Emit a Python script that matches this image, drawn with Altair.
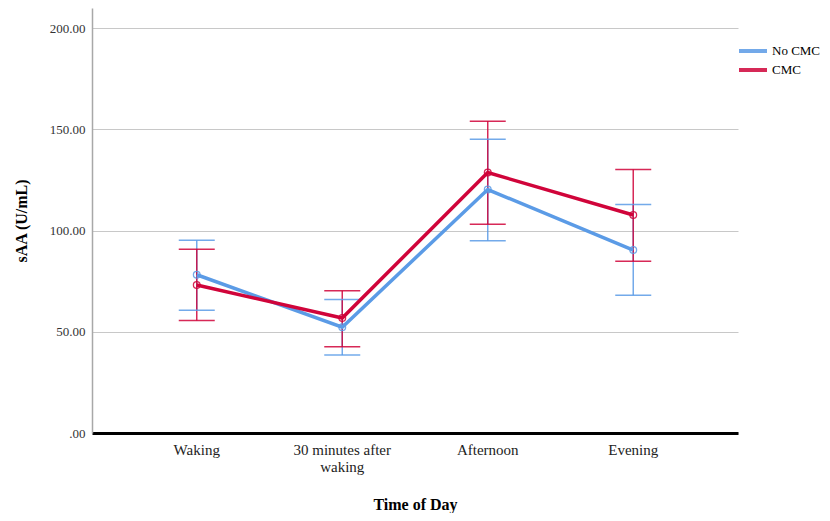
import altair as alt
import pandas as pd

time = ["Waking", "30 minutes after waking", "Afternoon", "Evening"]
groups = ["No CMC", "CMC"]
no_cmc_mean = [78.2, 52.3, 120.3, 90.4]
no_cmc_lo = [60.7, 38.5, 95.0, 68.1]
no_cmc_hi = [95.3, 66.0, 145.2, 112.9]
cmc_mean = [73.1, 56.8, 128.7, 107.7]
cmc_lo = [55.6, 42.6, 103.2, 84.9]
cmc_hi = [90.8, 70.3, 154.1, 130.2]

rows = []
for g, m, lo, hi in [("No CMC", no_cmc_mean, no_cmc_lo, no_cmc_hi),
                     ("CMC", cmc_mean, cmc_lo, cmc_hi)]:
    for t, a, b, c in zip(time, m, lo, hi):
        rows.append({"time": t, "group": g, "mean": a, "lo": b, "hi": c})
df = pd.DataFrame(rows)

BLUE = "#5B9BE6"
RED = "#D0043A"
SERIF = "Liberation Serif"

x = alt.X("time:N", sort=time, scale=alt.Scale(padding=0.44),
          axis=alt.Axis(title="Time of Day", labelAngle=0, ticks=False,
                        domainColor="black", domainWidth=3,
                        labelFont=SERIF, labelFontSize=15, labelColor="#222",
                        labelPadding=9, labelLimit=200,
                        labelExpr="datum.label == '30 minutes after waking' ? ['30 minutes after', 'waking'] : datum.label",
                        titleFont=SERIF, titleFontSize=16, titleFontWeight="bold",
                        titlePadding=22, titleColor="black", grid=False))
y_scale = alt.Scale(domain=[0, 210], nice=False)
yaxis = alt.Axis(title="sAA (U/mL)", values=[0, 50, 100, 150, 200], ticks=False,
                 domainColor="#a8a8a8", domainWidth=1.5, grid=True,
                 gridColor="#c8c8c8", gridWidth=1,
                 labelExpr="datum.value == 0 ? '.00' : format(datum.value, '.2f')",
                 labelFont=SERIF, labelFontSize=13, labelColor="#333",
                 labelPadding=7, titleFont=SERIF, titleFontSize=16,
                 titleFontWeight="bold", titleColor="black", titlePadding=20)

legend = alt.Legend(title=None, orient="none", legendX=651, legendY=33,
                    symbolType="M-1.75,0H1.75", symbolSize=256,
                    symbolStrokeWidth=4, labelFont=SERIF,
                    labelFontSize=13, labelColor="black",
                    labelOffset=9, rowPadding=1)
color = alt.Color("group:N", scale=alt.Scale(domain=groups, range=[BLUE, RED]),
                  sort=groups, legend=legend)

base = alt.Chart(df)

rule = base.mark_rule(strokeWidth=1.5, opacity=0.85).encode(
    x=x, y=alt.Y("lo:Q", scale=y_scale, axis=yaxis), y2="hi:Q", color=color)
cap_lo = base.mark_tick(size=36, thickness=1.5, opacity=0.85).encode(
    x=x, y=alt.Y("lo:Q", scale=y_scale), color=color)
cap_hi = base.mark_tick(size=36, thickness=1.5, opacity=0.85).encode(
    x=x, y=alt.Y("hi:Q", scale=y_scale), color=color)
line = base.mark_line(strokeWidth=3.5).encode(
    x=x, y=alt.Y("mean:Q", scale=y_scale), color=color,
    order=alt.Order("group:N"))
pts = base.mark_point(filled=False, size=45, strokeWidth=1.3, opacity=0.85).encode(
    x=x, y=alt.Y("mean:Q", scale=y_scale), color=color)

chart = alt.layer(rule, cap_lo, cap_hi, line, pts).properties(
    width=646, height=425,
    autosize=alt.AutoSizeParams(type="none"),
    padding={"left": 84, "top": 0, "right": 84, "bottom": 80},
).configure(background="white").configure_view(strokeWidth=0, stroke="transparent")

chart.save("out.html", embed_options={"renderer": "svg", "actions": False})
